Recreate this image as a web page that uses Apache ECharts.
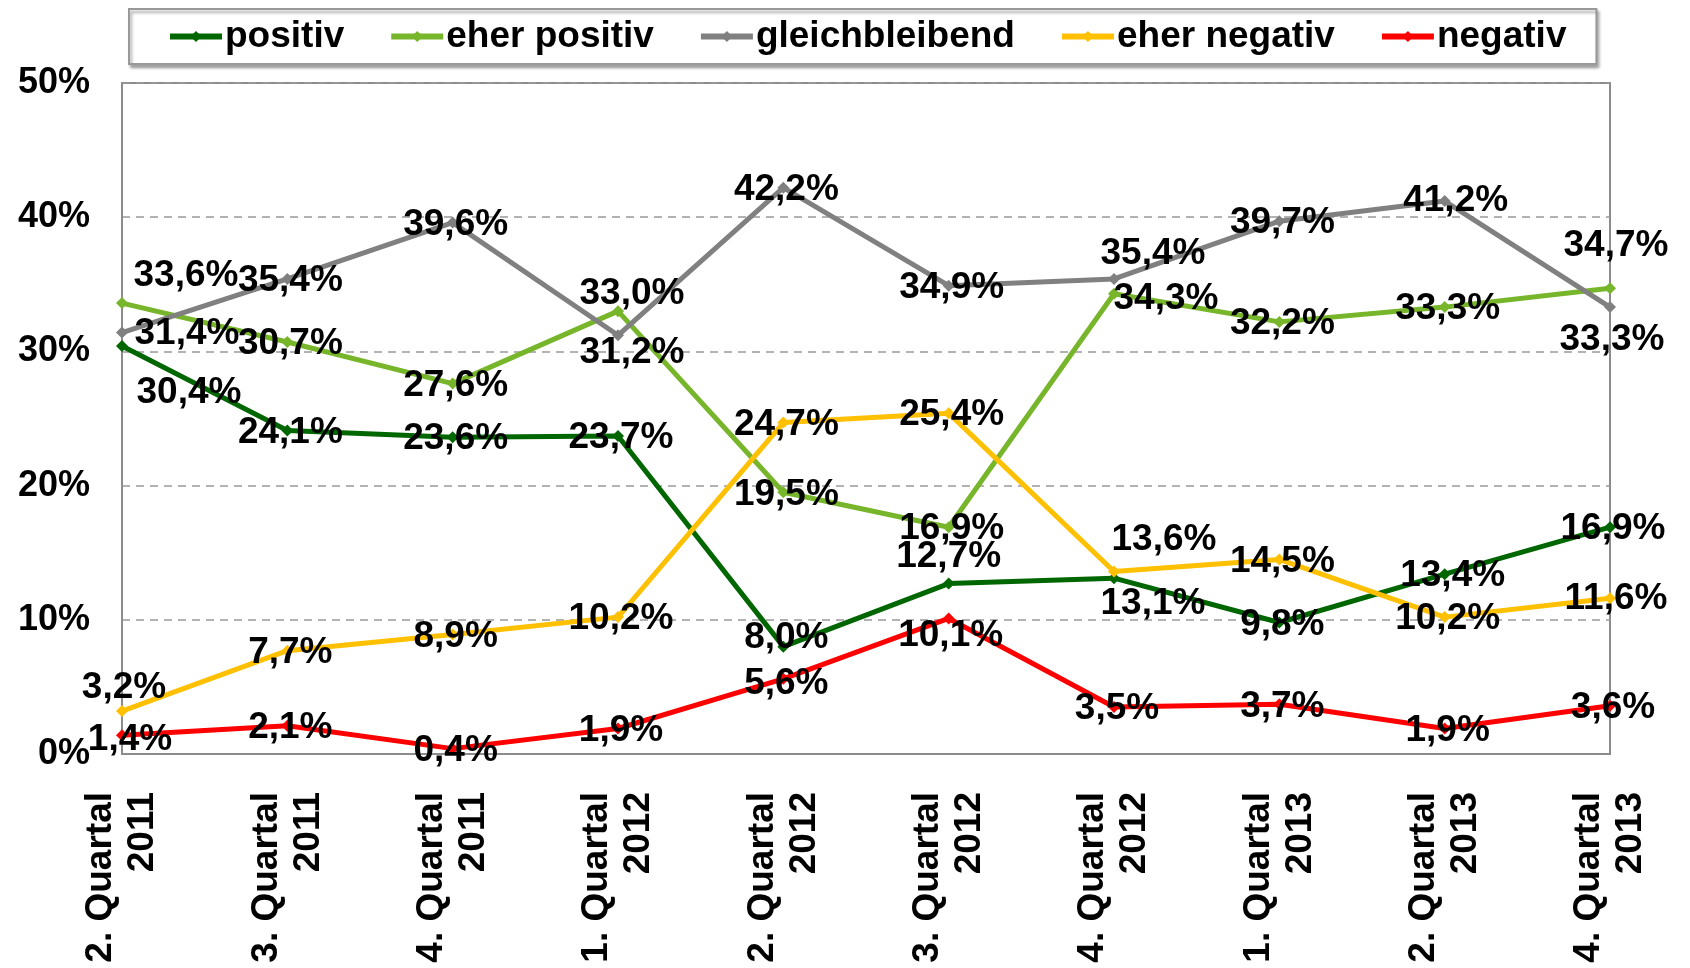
<!DOCTYPE html>
<html>
<head>
<meta charset="utf-8">
<script src="https://cdn.jsdelivr.net/npm/echarts@6/dist/echarts.min.js"></script>
<style>
  html, body { margin: 0; padding: 0; background: #fff; }
  #chart { width: 1690px; height: 968px; }
</style>
</head>
<body>
<div id="chart"></div>
<script>
// Quartale
var quartale = ['2. Quartal\n2011', '3. Quartal\n2011', '4. Quartal\n2011', '1. Quartal\n2012', '2. Quartal\n2012',
  '3. Quartal\n2012', '4. Quartal\n2012', '1. Quartal\n2013', '2. Quartal\n2013', '4. Quartal\n2013'];

var positiv = [30.4, 24.1, 23.6, 23.7, 8.0, 12.7, 13.1, 9.8, 13.4, 16.9];
var eherPositiv = [33.6, 30.7, 27.6, 33.0, 19.5, 16.9, 34.3, 32.2, 33.3, 34.7];
var gleichbleibend = [31.4, 35.4, 39.6, 31.2, 42.2, 34.9, 35.4, 39.7, 41.2, 33.3];
var eherNegativ = [3.2, 7.7, 8.9, 10.2, 24.7, 25.4, 13.6, 14.5, 10.2, 11.6];
var negativ = [1.4, 2.1, 0.4, 1.9, 5.6, 10.1, 3.5, 3.7, 1.9, 3.6];

var yTicks = [0, 10, 20, 30, 40, 50];

// Verschiebung der Beschriftungen (px), sonst mittig auf dem Punkt
var std = [3, 2];
var offPositiv = [[67, 47], std, std, std, [3, -9], [0, -27], [39, 26], std, [8, 2], std];
var offEherPositiv = [[64, -27], std, std, [14, -17], std, std, [52, 5], std, std, [6, -43]];
var offGleich = [[65, 1], std, std, [14, 18], std, std, [39, -25], std, [11, 0], [2, 33]];
var offEherNegativ = [[2, -23], std, std, std, std, std, [50, -32], std, std, [6, 0]];
var offNegativ = [[8, 5], std, std, std, [3, 5], [2, 17], std, std, std, std];

var font = '"Liberation Sans", Arial, sans-serif';

function fmt(v) {
  return v.toFixed(1).replace('.', ',') + '%';
}

function serie(name, color, values, offsets) {
  return {
    name: name,
    type: 'line',
    symbol: 'diamond',
    symbolSize: 12,
    lineStyle: { width: 5, color: color },
    itemStyle: { color: color },
    z: 2,
    label: {
      show: true,
      position: 'inside',
      color: '#000',
      fontFamily: font,
      fontWeight: 'bold',
      fontSize: 37,
      formatter: function (p) { return fmt(p.value); }
    },
    data: values.map(function (v, i) {
      return { value: v, label: { offset: offsets[i] } };
    })
  };
}

var chart = echarts.init(document.getElementById('chart'));
chart.setOption({
  animation: false,
  backgroundColor: '#fff',
  legend: {
    left: 129,
    top: 9,
    padding: [9, 30, 9, 38],
    itemGap: 44,
    itemWidth: 52,
    itemHeight: 14,
    backgroundColor: '#fff',
    borderColor: '#999',
    borderWidth: 2,
    shadowColor: 'rgba(0,0,0,0.35)',
    shadowBlur: 3,
    shadowOffsetX: 2,
    shadowOffsetY: 3,
    lineStyle: { width: 6 },
    textStyle: { color: '#000', fontFamily: font, fontWeight: 'bold', fontSize: 37, padding: [0, 0, 0, -2] },
    data: ['positiv', 'eher positiv', 'gleichbleibend', 'eher negativ', 'negativ']
  },
  grid: {
    left: 122, right: 80, top: 83, bottom: 214,
    show: true, borderColor: '#8c8c8c', borderWidth: 2
  },
  xAxis: {
    type: 'category',
    boundaryGap: false,
    data: quartale,
    axisLine: { lineStyle: { color: '#8c8c8c', width: 2 } },
    axisTick: { show: false },
    axisLabel: {
      rotate: 90,
      interval: 0,
      margin: 38,
      color: '#000',
      fontFamily: font,
      fontWeight: 'bold',
      fontSize: 37,
      lineHeight: 42,
      align: 'right',
      padding: [22, 0, 0, 0]
    }
  },
  yAxis: {
    type: 'value',
    min: yTicks[0],
    max: yTicks[yTicks.length - 1],
    interval: 10,
    axisLine: { show: true, lineStyle: { color: '#8c8c8c', width: 2 } },
    axisTick: { show: false },
    splitLine: { lineStyle: { color: '#999', type: [8, 6], width: 1.5 } },
    axisLabel: {
      margin: 32,
      color: '#000',
      fontFamily: font,
      fontWeight: 'bold',
      fontSize: 36,
      formatter: '{value}%'
    }
  },
  series: [
    serie('positiv', '#006600', positiv, offPositiv),
    serie('eher positiv', '#77b52a', eherPositiv, offEherPositiv),
    serie('gleichbleibend', '#808080', gleichbleibend, offGleich),
    serie('eher negativ', '#ffc000', eherNegativ, offEherNegativ),
    serie('negativ', '#ff0000', negativ, offNegativ)
  ]
});
</script>
</body>
</html>
